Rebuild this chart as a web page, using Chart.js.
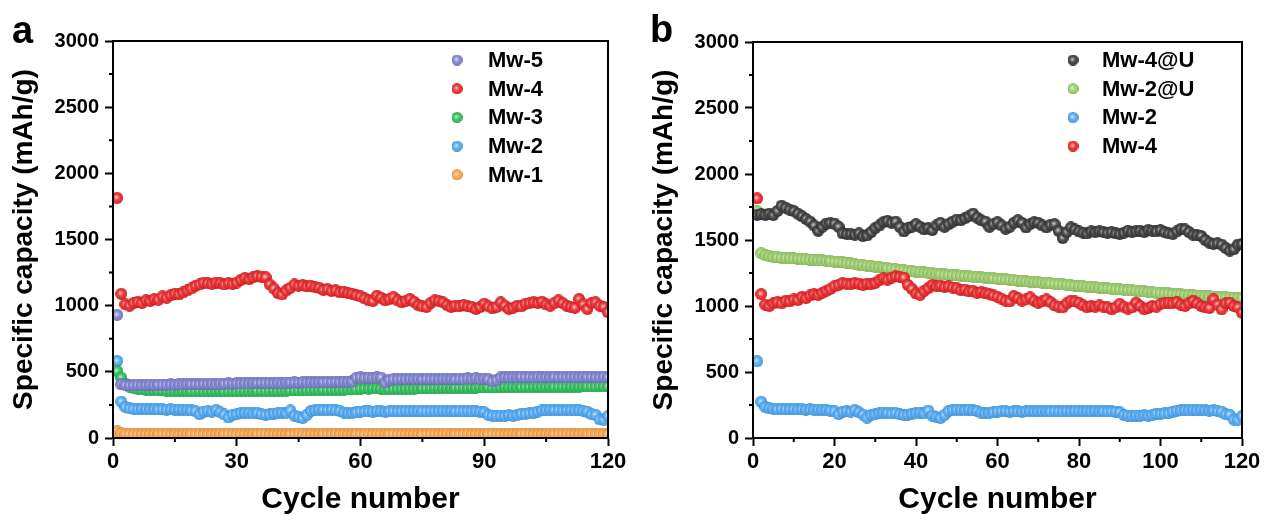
<!DOCTYPE html>
<html>
<head>
<meta charset="utf-8">
<script src="https://cdn.jsdelivr.net/npm/chart.js@4.4.0/dist/chart.umd.min.js"></script>
<style>
  body { margin: 0; background: #fff; }
  #wrap { position: relative; width: 1266px; height: 525px; }
  canvas { position: absolute; top: 0; }
  #ca { left: 0; }
  #cb { left: 640px; }
</style>
</head>
<body>
<div id="wrap">
  <canvas id="ca" width="640" height="525"></canvas>
  <canvas id="cb" width="626" height="525"></canvas>
</div>
<script>
const F = '"Liberation Sans", Arial, sans-serif';

// cycle numbers 1..120
const cycles = Array.from({ length: 120 }, (_, i) => i + 1);

// panel a
const mw5 = [930,
  405, 400, 398, 400, 402, 400, 401, 403, 400,
  402, 404, 403, 405, 404, 406, 405, 407, 406, 408,
  407, 409, 408, 410, 409, 411, 410, 412, 411, 413,
  412, 414, 413, 415, 414, 416, 415, 417, 416, 418,
  417, 419, 418, 420, 419, 421, 420, 422, 421, 423,
  422, 424, 423, 425, 424, 426, 425, 428,
  455, 458, 455, 457, 455, 458, 456,
  420,
  440, 445, 443, 446, 444, 447, 445, 446, 444, 447, 445, 446, 444, 447, 445, 446, 444, 447, 445, 450, 448, 452, 447, 449, 445, 430, 440,
  458, 460, 459, 461, 460, 462, 460, 461, 459, 462, 460, 461, 460, 462, 459, 461, 460, 462, 461, 460, 462, 460, 461, 459, 460, 462, 460];

const mw4 = [1815, 1090, 1010, 1000, 1020, 1030, 1020, 1040, 1035, 1050,
  1045, 1070, 1060, 1080, 1090, 1085, 1100, 1115, 1130, 1150,
  1160, 1175, 1170, 1165, 1175, 1170, 1160, 1170, 1165, 1175,
  1195, 1210, 1200, 1215, 1225, 1220, 1215, 1160, 1130, 1095,
  1085, 1115, 1135, 1160, 1150, 1155, 1145, 1150, 1140, 1135,
  1120, 1125, 1110, 1115, 1100, 1105, 1095, 1090, 1080, 1070,
  1055, 1040, 1035, 1075, 1060, 1040, 1050, 1065, 1040, 1025,
  1035, 1050, 1030, 1005, 995, 990, 1020, 1040, 1035, 1025,
  1005, 990, 1000, 995, 1005, 995, 990, 975, 990, 1015,
  995, 980, 990, 1025, 1000, 975, 985, 1000, 995, 1015,
  1020, 1025, 1020, 1030, 1010, 1000, 1020, 1040, 1020, 1000,
  990, 985, 1050, 1010, 975, 1020, 1025, 1000, 990, 950];

const mw3 = [505,
  455, 410, 388, 378, 372, 368, 366, 364, 362,
  360, 359, 358, 357, 357, 356, 356, 355, 355, 355,
  355, 354, 355, 354, 355, 355, 354, 355, 356, 355,
  356, 355, 356, 356, 357, 356, 357, 357, 358, 357,
  358, 358, 359, 359, 360, 360, 361, 361, 362, 362,
  363, 363, 364, 365, 365, 366, 367, 367, 368, 372,
  375, 374, 376, 375, 373, 370, 371, 372, 372, 373,
  373, 374, 374, 375, 375, 376, 376, 377, 377, 378,
  378, 379, 379, 380, 380, 380, 381, 381, 382, 382,
  383, 382, 383, 384, 384, 384, 385, 385, 385, 386,
  386, 386, 387, 387, 387, 388, 388, 388, 388, 389,
  389, 389, 389, 390, 390, 390, 390, 391, 391, 391];

const mw2 = [582, 275, 235,
  225, 220, 218, 220, 218, 217, 219,
  216, 218, 215, 216, 214, 215, 213, 212, 208, 203,
  180, 200, 205, 200, 212, 195, 178, 155, 175, 180,
  188, 192, 190, 186, 190, 180, 175, 178, 185, 190,
  192, 188, 208, 170, 160, 152, 175, 205, 212, 215,
  214, 212, 215, 210, 205, 192, 188, 190, 195, 200,
  202, 203, 200, 204, 202, 200, 203, 204, 202, 203,
  204, 202, 203, 205, 203, 202, 204, 203, 205, 204,
  203, 204, 202, 205, 203, 204, 202, 203, 200, 195,
  175, 170, 168, 170, 168, 172, 170, 175, 185, 184,
  186, 190, 200, 208, 210, 212, 210, 211, 209, 212,
  210, 208, 209, 205, 200, 180, 175, 140, 138, 165];

const mw1 = [50, 38, 32, 30, 29, 28, 29, 30, 28, 29,
  28, 29, 30, 28, 29, 28, 30, 29, 28, 29,
  30, 28, 29, 28, 29, 30, 28, 29, 28, 29,
  30, 29, 28, 29, 28, 30, 29, 28, 29, 30,
  28, 29, 28, 29, 30, 29, 28, 29, 28, 30,
  29, 28, 29, 30, 28, 29, 28, 29, 30, 29,
  28, 29, 28, 30, 29, 28, 29, 30, 28, 29,
  28, 29, 30, 28, 29, 28, 30, 29, 28, 29,
  30, 28, 29, 28, 29, 30, 28, 29, 28, 29,
  30, 29, 28, 29, 28, 30, 29, 28, 29, 30,
  28, 29, 28, 29, 30, 29, 28, 29, 28, 30,
  29, 28, 29, 30, 28, 29, 28, 29, 30, 29];

// panel b
const mw4u = [1690, 1695, 1690, 1700, 1690, 1720, 1760, 1745, 1730, 1720,
  1700, 1680, 1660, 1640, 1610, 1570, 1600, 1625, 1630, 1625,
  1600, 1550, 1545, 1545, 1540, 1550, 1530, 1535, 1560, 1590,
  1610, 1635, 1645, 1630, 1640, 1600, 1565, 1590, 1600, 1620,
  1600, 1580, 1590, 1575, 1610, 1630, 1600, 1620, 1640, 1655,
  1650, 1665, 1680, 1700, 1670, 1650, 1640, 1600, 1620, 1635,
  1610, 1585, 1600, 1630, 1650, 1630, 1595, 1620, 1635, 1630,
  1610, 1595, 1615, 1620, 1570, 1515, 1560, 1595, 1580, 1565,
  1555, 1550, 1565, 1560, 1565, 1560, 1555, 1560, 1550, 1545,
  1555, 1570, 1560, 1565, 1570, 1560, 1575, 1570, 1565, 1575,
  1560, 1550, 1545, 1565, 1585, 1580, 1560, 1540, 1535, 1530,
  1500, 1480, 1470, 1475, 1465, 1440, 1420, 1430, 1465, 1470];

const mw2u = [1720, 1400, 1385, 1378, 1372, 1370, 1366, 1365, 1362, 1360,
  1358, 1355, 1353, 1352, 1350, 1348, 1345, 1342, 1340, 1336,
  1333, 1330, 1326, 1322, 1318, 1314, 1310, 1306, 1302, 1298,
  1295, 1291, 1287, 1283, 1280, 1276, 1272, 1268, 1264, 1260,
  1257, 1254, 1251, 1248, 1246, 1243, 1240, 1237, 1235, 1232,
  1230, 1228, 1225, 1222, 1220, 1217, 1214, 1212, 1209, 1206,
  1204, 1201, 1198, 1196, 1193, 1190, 1187, 1185, 1182, 1179,
  1176, 1174, 1171, 1168, 1166, 1163, 1160, 1158, 1155, 1152,
  1150, 1147, 1144, 1142, 1139, 1136, 1134, 1131, 1128, 1126,
  1123, 1120, 1118, 1115, 1112, 1110, 1107, 1104, 1102, 1100,
  1097, 1095, 1092, 1090, 1088, 1085, 1083, 1081, 1079, 1077,
  1075, 1073, 1071, 1069, 1067, 1065, 1063, 1061, 1060, 1058];

const yTicksMinor = [250, 750, 1250, 1750, 2250, 2750];
const xMinorA = [15, 45, 75, 105];
const xMinorB = [10, 30, 50, 70, 90, 110];

const colors = {
  mw5: '#7e80cf', mw4: '#e8282a', mw3: '#2dbd5a', mw2: '#4ea8f2',
  mw1: '#f7a24a', mw4u: '#3c3c3c', mw2u: '#9acc6a'
};

function mix(hex, to, t) {
  const a = [1, 3, 5].map(i => parseInt(hex.slice(i, i + 2), 16));
  const b = [1, 3, 5].map(i => parseInt(to.slice(i, i + 2), 16));
  return 'rgb(' + a.map((v, i) => Math.round(v + (b[i] - v) * t)).join(',') + ')';
}

// little shaded ball, like the Origin markers
function sphere(color, d) {
  const c = document.createElement('canvas');
  c.width = c.height = d;
  const g = c.getContext('2d');
  const r = d / 2;
  const grad = g.createRadialGradient(r * 0.85, r * 0.85, 0, r, r, r);
  grad.addColorStop(0, mix(color, '#ffffff', 0.8));
  grad.addColorStop(0.45, mix(color, '#ffffff', 0.15));
  grad.addColorStop(0.8, color);
  grad.addColorStop(1, mix(color, '#000000', 0.2));
  g.fillStyle = grad;
  g.beginPath();
  g.arc(r, r, r, 0, Math.PI * 2);
  g.fill();
  return c;
}

function series(label, vals, color, order) {
  return {
    label,
    data: cycles.map((c, i) => ({ x: c, y: vals[i] })),
    pointStyle: sphere(color, 12),
    legendDot: sphere(color, 11),
    showLine: false,
    order
  };
}

// frame, minor ticks, legend and panel letter
const extras = {
  id: 'extras',
  afterDraw(chart, args, o) {
    const { ctx, chartArea: a, scales } = chart;
    ctx.save();
    ctx.strokeStyle = '#000';
    ctx.lineWidth = 2;
    ctx.strokeRect(a.left, a.top, a.right - a.left, a.bottom - a.top);
    ctx.beginPath();
    o.xMinor.forEach(v => {
      const px = scales.x.getPixelForValue(v);
      ctx.moveTo(px, a.bottom);
      ctx.lineTo(px, a.bottom + 4);
    });
    yTicksMinor.forEach(v => {
      const py = scales.y.getPixelForValue(v);
      ctx.moveTo(a.left, py);
      ctx.lineTo(a.left - 4, py);
    });
    ctx.stroke();

    ctx.font = 'bold 22px ' + F;
    ctx.fillStyle = '#000';
    ctx.textBaseline = 'middle';
    chart.data.datasets.forEach((ds, i) => {
      const y = o.ly + i * 28.7;
      ctx.drawImage(ds.legendDot, o.lx - 5.5, y - 5.5);
      ctx.fillText(ds.label, o.tx, y + 1);
    });

    ctx.font = 'bold 38px ' + F;
    ctx.textBaseline = 'alphabetic';
    ctx.fillText(o.letter, o.px, o.py);
    ctx.restore();
  }
};

function opts(xStep, pad, ex) {
  return {
    responsive: false,
    animation: false,
    layout: { padding: pad },
    plugins: { legend: { display: false }, tooltip: { enabled: false }, extras: ex },
    scales: {
      x: {
        type: 'linear', min: 0, max: 120,
        afterFit(s) { s.height = 87; },
        ticks: { stepSize: xStep, color: '#000', padding: 3, font: { family: F, size: 22, weight: 'bold' } },
        grid: { drawOnChartArea: false, tickLength: 8, tickWidth: 2, tickColor: '#000' },
        border: { color: '#000', width: 2 },
        title: { display: true, text: 'Cycle number', color: '#000', font: { family: F, size: 30, weight: 'bold' }, padding: { top: 0, bottom: 7 } }
      },
      y: {
        min: 0, max: 3000,
        afterFit(s) { s.width = 113; },
        ticks: { stepSize: 500, color: '#000', padding: 6, callback: v => String(v), font: { family: F, size: 20, weight: 'bold' } },
        grid: { drawOnChartArea: false, tickLength: 8, tickWidth: 2, tickColor: '#000' },
        border: { color: '#000', width: 2 },
        title: { display: true, text: 'Specific capacity (mAh/g)', color: '#000', font: { family: F, size: 28, weight: 'bold' }, padding: { top: 7, bottom: 0 } }
      }
    }
  };
}

new Chart(document.getElementById('ca'), {
  type: 'scatter',
  data: {
    datasets: [
      series('Mw-5', mw5, colors.mw5, 0),
      series('Mw-4', mw4, colors.mw4, 1),
      series('Mw-3', mw3, colors.mw3, 2),
      series('Mw-2', mw2, colors.mw2, 3),
      series('Mw-1', mw1, colors.mw1, 4)
    ]
  },
  options: opts(30, { left: 0, right: 32, top: 41, bottom: 0 },
    { xMinor: xMinorA, lx: 457, tx: 488, ly: 60, letter: 'a', px: 12, py: 43 }),
  plugins: [extras]
});

new Chart(document.getElementById('cb'), {
  type: 'scatter',
  data: {
    datasets: [
      series('Mw-4@U', mw4u, colors.mw4u, 0),
      series('Mw-2@U', mw2u, colors.mw2u, 2),
      series('Mw-2', mw2, colors.mw2, 3),
      series('Mw-4', mw4, colors.mw4, 1)
    ]
  },
  options: opts(20, { left: 0, right: 24, top: 42, bottom: 0 },
    { xMinor: xMinorB, lx: 433, tx: 462, ly: 60, letter: 'b', px: 10, py: 42 }),
  plugins: [extras]
});
</script>
</body>
</html>
